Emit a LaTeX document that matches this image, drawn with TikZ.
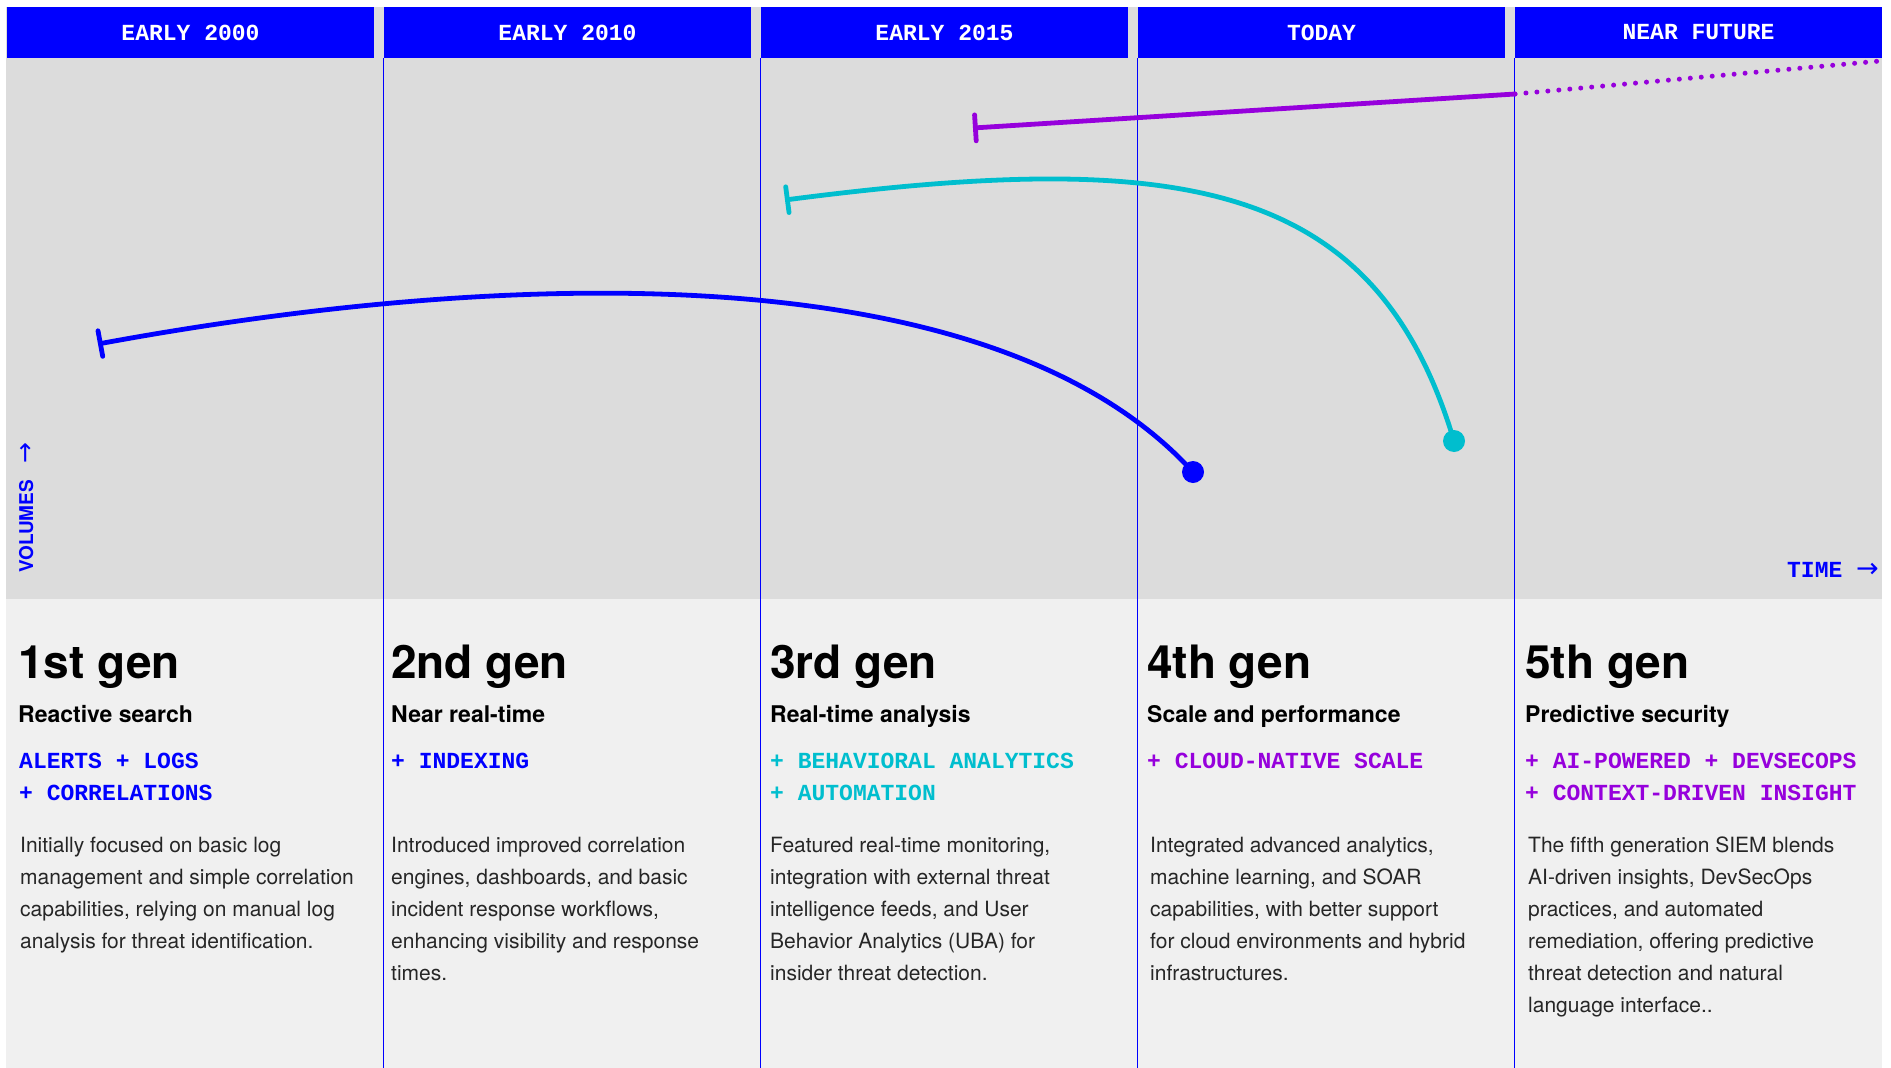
\documentclass[tikz,border=0pt]{standalone}
\usepackage{fontspec}
\setmainfont{TeX Gyre Heros}
\newfontfamily\monofont{Liberation Mono}
\newfontfamily\arrowfont{DejaVu Sans}
\usetikzlibrary{arrows.meta}

\definecolor{genblue}{RGB}{0,0,255}
\definecolor{gencyan}{RGB}{0,190,206}
\definecolor{genpurple}{RGB}{150,0,220}
\definecolor{topgray}{RGB}{220,220,220}
\definecolor{lowgray}{RGB}{240,240,240}

\begin{document}
\begin{tikzpicture}[
    x=1pt, y=-1pt,
    node distance=377pt,
    era/.style={
        fill=genblue,
        text=white,
        minimum width=367pt,
        minimum height=51pt,
        inner sep=0pt,
        font=\monofont\bfseries\fontsize{23}{23}\selectfont
    },
    % multi-line nodes sit on the baseline of their last line
    gen/.style={anchor=base west, inner sep=0pt, font=\bfseries\fontsize{46}{46}\selectfont},
    focus/.style={anchor=base west, inner sep=0pt, font=\bfseries\fontsize{23}{26}\selectfont},
    tags/.style={anchor=base west, inner sep=0pt, align=left, font=\monofont\bfseries\fontsize{23}{32}\selectfont},
    blurb/.style={anchor=base west, inner sep=0pt, align=left, text=black!85, font=\fontsize{21}{32}\selectfont},
    divider/.style={genblue, line width=1.2pt},
    curve/.style={line width=4.8pt, line cap=round},
    dot/.style={circle, minimum size=22pt, inner sep=0pt}
]
    \useasboundingbox (0,0) rectangle (1891,1068);
    \fill[white] (0,0) rectangle (1891,1068);
    \fill[topgray] (6,7) rectangle (1882,599);
    \fill[lowgray] (6,599) rectangle (1882,1068);
    \coordinate (bottom) at (0,1068);

    % Headers
    \node[era] (e1) at (190.5,32.5) {EARLY 2000};
    \node[era] (e2) [right of=e1] {EARLY 2010};
    \node[era] (e3) [right of=e2] {EARLY 2015};
    \node[era] (e4) [right of=e3] {TODAY};
    \node[era] (e5) [right of=e4] {NEAR FUTURE};

    % Column dividers
    \draw[divider] (e2.south west) -- (e2.south west |- bottom);
    \draw[divider] (e3.south west) -- (e3.south west |- bottom);
    \draw[divider] (e4.south west) -- (e4.south west |- bottom);
    \draw[divider] (e5.south west) -- (e5.south west |- bottom);

    % Axis labels
    \node[rotate=90, anchor=base west, inner sep=0pt, text=genblue,
          font=\bfseries\fontsize{19}{19}\selectfont] (volumes) at (33,573)
          {VOLUMES\hspace{16pt}{\arrowfont\mdseries\fontsize{25}{25}\selectfont →}};
    \node[anchor=base east, inner sep=0pt, text=genblue,
          font=\monofont\bfseries\fontsize{23}{23}\selectfont] (time) at (1879,577)
          {TIME {\arrowfont\mdseries\fontsize{27}{27}\selectfont →}};

    % Curves
    \coordinate (b0) at (98,344);
    \node[dot, fill=genblue] (b1) at (1193,472) {};
    \draw[curve, genblue, {Bar[width=26pt, round]}-]
        (b0) .. controls (505,269) and (993,252) .. (b1.center);

    \coordinate (c0) at (785,200);
    \node[dot, fill=gencyan] (c1) at (1454,441) {};
    \draw[curve, gencyan, {Bar[width=26pt, round]}-]
        (c0) .. controls (1185,148) and (1376,181) .. (c1.center);

    \coordinate (p0) at (973,128);
    \coordinate (p1) at (1515,94);
    \coordinate (p2) at (1880,61);
    \draw[curve, genpurple, {Bar[width=26pt, round]}-] (p0) -- (p1);
    \draw[genpurple, line width=5pt, line cap=round, dash pattern=on 0pt off 11pt] (p1) -- (p2);

    % 1st gen
    \node[gen] (g1) at (18,678) {1st gen};
    \node[focus] (f1) at (18,722) {Reactive search};
    \node[tags, text=genblue] (t1) at (19,800) {ALERTS + LOGS\\+ CORRELATIONS};
    \node[blurb] (d1) at (20,948) {Initially focused on basic log\\management and simple correlation\\capabilities, relying on manual log\\analysis for threat identification.};

    % 2nd gen
    \node[gen] (g2) at (391,678) {2nd gen};
    \node[focus] (f2) at (391,722) {Near real-time};
    \node[tags, text=genblue] (t2) at (391,768) {+ INDEXING};
    \node[blurb] (d2) at (391,980) {Introduced improved correlation\\engines, dashboards, and basic\\incident response workflows,\\enhancing visibility and response\\times.};

    % 3rd gen
    \node[gen] (g3) at (770,678) {3rd gen};
    \node[focus] (f3) at (770,722) {Real-time analysis};
    \node[tags, text=gencyan] (t3) at (770,800) {+ BEHAVIORAL ANALYTICS\\+ AUTOMATION};
    \node[blurb] (d3) at (770,980) {Featured real-time monitoring,\\integration with external threat\\intelligence feeds, and User\\Behavior Analytics (UBA) for\\insider threat detection.};

    % 4th gen
    \node[gen] (g4) at (1147,678) {4th gen};
    \node[focus] (f4) at (1147,722) {Scale and performance};
    \node[tags, text=genpurple] (t4) at (1147,768) {+ CLOUD-NATIVE SCALE};
    \node[blurb] (d4) at (1150,980) {Integrated advanced analytics,\\machine learning, and SOAR\\capabilities, with better support\\for cloud environments and hybrid\\infrastructures.};

    % 5th gen
    \node[gen] (g5) at (1525,678) {5th gen};
    \node[focus] (f5) at (1525,722) {Predictive security};
    \node[tags, text=genpurple] (t5) at (1525,800) {+ AI-POWERED + DEVSECOPS\\+ CONTEXT-DRIVEN INSIGHT};
    \node[blurb] (d5) at (1528,1012) {The fifth generation SIEM blends\\AI-driven insights, DevSecOps\\practices, and automated\\remediation, offering predictive\\threat detection and natural\\language interface..};
\end{tikzpicture}
\end{document}
